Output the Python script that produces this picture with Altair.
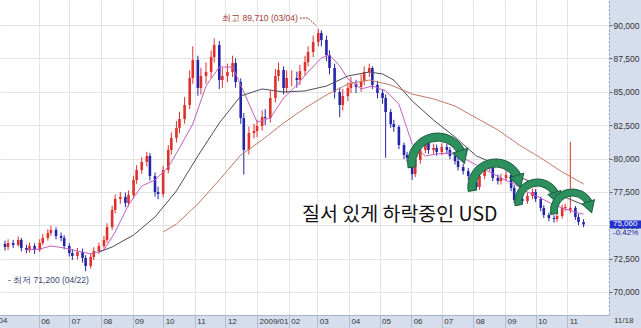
import altair as alt
import pandas as pd

# ---- candle data (every 3rd trading day) ----
closes = [73.37, 73.67, 73.52, 73.90, 73.30, 73.15, 73.45, 73.15, 73.67, 74.05,
          74.42, 74.65, 74.20, 74.05, 73.45, 72.92, 72.70, 73.00, 72.55, 71.95,
          72.62, 73.07, 73.45, 73.90, 74.87, 76.14, 76.97, 77.12, 76.67, 77.27,
          78.39, 79.14, 79.74, 80.19, 78.69, 77.49, 77.34, 79.14, 80.64, 81.54,
          82.29, 82.96, 84.01, 86.03, 87.38, 85.28, 86.18, 86.48, 87.60, 88.50,
          85.88, 86.18, 86.48, 87.15, 85.73, 83.03, 80.64, 81.91, 82.06, 82.44,
          83.11, 83.03, 84.53, 86.18, 86.63, 85.28, 86.03, 86.03, 85.88, 86.55,
          87.23, 87.98, 88.73, 89.40, 88.88, 87.75, 86.78, 84.98, 84.01, 84.68,
          85.28, 85.58, 85.36, 85.81, 86.48, 86.78, 85.51, 84.91, 84.53, 83.48,
          82.58, 82.36, 81.01, 80.26, 80.04, 78.84, 79.89, 80.64, 81.39, 80.64,
          80.79, 80.49, 80.86, 80.64, 80.19, 79.81, 79.36, 79.06, 78.69, 78.24,
          77.87, 78.69, 79.29, 79.51, 78.54, 78.32, 78.54, 78.76, 77.79, 76.89,
          76.97, 76.82, 77.19, 77.49, 76.97, 76.29, 75.77, 75.54, 75.47, 75.69,
          76.29, 76.37, 76.30, 75.62, 75.24, 75.06]
opens = [73.60, 73.37, 73.67, 73.52, 73.90, 73.30, 73.15, 73.45, 73.15, 73.67,
         74.05, 74.42, 74.65, 74.20, 74.05, 73.45, 72.92, 72.70, 73.00, 72.55,
         71.95, 72.62, 73.07, 73.45, 73.90, 74.87, 76.14, 76.97, 77.12, 76.67,
         77.27, 78.39, 79.14, 79.74, 80.19, 78.69, 77.49, 77.34, 79.14, 80.64,
         81.54, 82.29, 82.96, 84.01, 86.03, 87.38, 85.28, 86.18, 86.48, 87.60,
         88.50, 85.88, 86.18, 86.48, 87.15, 85.73, 83.03, 80.64, 81.91, 82.06,
         82.44, 83.11, 83.03, 84.53, 86.18, 86.63, 85.28, 86.03, 86.03, 85.88,
         86.55, 87.23, 87.98, 88.73, 89.40, 88.88, 87.75, 86.78, 84.98, 84.01,
         84.68, 85.28, 85.58, 85.36, 85.81, 86.48, 86.78, 85.51, 84.91, 84.53,
         83.48, 82.58, 82.36, 81.01, 80.26, 80.04, 78.84, 79.89, 80.64, 81.39,
         80.64, 80.79, 80.49, 80.86, 80.64, 80.19, 79.81, 79.36, 79.06, 78.69,
         78.24, 77.87, 78.69, 79.29, 79.51, 78.54, 78.32, 78.54, 78.76, 77.79,
         76.89, 76.97, 76.82, 77.19, 77.49, 76.97, 76.29, 75.77, 75.54, 75.47,
         75.69, 76.29, 76.12, 76.30, 75.62, 75.24]
highs = [73.85, 73.95, 73.90, 74.15, 74.05, 73.55, 73.70, 73.65, 73.95, 74.35,
         74.70, 74.95, 74.85, 74.45, 74.25, 73.65, 73.20, 73.30, 73.25, 72.75,
         72.90, 73.35, 73.70, 74.20, 75.15, 76.45, 77.30, 77.50, 77.45, 77.60,
         78.70, 79.50, 80.10, 80.50, 80.40, 78.95, 77.90, 79.45, 81.00, 81.95,
         82.80, 83.50, 84.60, 86.60, 88.40, 87.70, 86.80, 87.20, 88.10, 89.00,
         88.80, 86.80, 87.10, 87.70, 87.50, 86.00, 83.40, 82.40, 82.60, 82.90,
         83.60, 83.70, 85.10, 86.70, 87.20, 86.90, 86.60, 86.60, 86.50, 87.00,
         87.70, 88.40, 89.20, 89.71, 89.60, 89.20, 88.10, 87.10, 85.30, 85.20,
         85.70, 86.10, 85.90, 86.30, 86.90, 87.10, 86.90, 85.80, 85.20, 84.80,
         83.70, 82.90, 82.50, 81.20, 80.50, 80.20, 80.20, 80.95, 81.65, 81.60,
         81.10, 81.05, 81.15, 81.10, 80.85, 80.40, 80.05, 79.60, 79.30, 78.90,
         78.45, 78.95, 79.55, 79.85, 79.75, 78.80, 78.85, 79.10, 78.95, 78.00,
         77.25, 77.20, 77.45, 77.75, 77.70, 77.15, 76.50, 75.95, 75.75, 75.95,
         76.55, 76.60, 81.25, 76.45, 75.85, 75.45]
lows = [73.10, 73.15, 73.30, 73.40, 73.05, 72.90, 72.95, 72.85, 73.00, 73.50,
        73.85, 74.20, 73.95, 73.80, 73.20, 72.65, 72.40, 72.45, 72.20, 71.55,
        71.75, 72.40, 72.85, 73.25, 73.70, 74.65, 75.90, 76.60, 76.35, 76.40,
        77.00, 78.10, 78.85, 79.40, 78.35, 77.15, 76.95, 77.10, 78.90, 80.30,
        81.20, 81.90, 82.60, 83.70, 85.60, 84.70, 84.80, 85.60, 86.00, 87.20,
        85.20, 85.30, 85.70, 86.10, 85.30, 82.60, 78.80, 80.30, 81.50, 81.60,
        82.10, 82.50, 82.70, 84.20, 85.80, 84.80, 84.90, 85.40, 85.30, 85.50,
        86.20, 86.90, 87.60, 88.40, 88.40, 87.30, 86.30, 84.50, 83.10, 83.60,
        84.30, 84.90, 84.90, 85.00, 85.50, 86.10, 85.20, 84.50, 84.10, 80.05,
        82.30, 82.00, 80.70, 79.95, 79.70, 78.40, 78.60, 79.60, 80.40, 80.35,
        80.35, 80.20, 80.25, 80.35, 79.95, 79.55, 79.10, 78.80, 78.40, 77.95,
        77.60, 77.65, 78.45, 79.05, 78.30, 78.05, 78.05, 78.30, 77.55, 76.65,
        76.60, 76.55, 76.60, 76.95, 76.75, 76.05, 75.55, 75.30, 75.20, 75.25,
        75.50, 76.05, 75.90, 75.40, 75.00, 74.85]

# ---- moving-average lines, read at a subset of candle numbers ----
pink_at = [5, 8, 11, 14, 17, 20, 23, 26, 29, 32, 35, 38, 41, 44, 47, 50, 53, 56,
           59, 62, 65, 68, 71, 74, 76, 78, 80, 83, 86, 89, 92, 95, 98, 101, 104,
           107, 110, 113, 116, 119, 122, 125, 128, 131, 134, 135]
pink_vals = [73.15, 73.22, 73.45, 73.30, 73.07, 72.85, 73.15, 74.50, 76.52, 77.94,
             78.39, 79.36, 80.79, 82.58, 85.43, 86.85, 86.85, 84.98, 82.73, 83.03,
             84.53, 85.51, 86.48, 87.53, 87.75, 86.93, 85.96, 85.21, 85.43, 85.06,
             84.08, 81.09, 80.19, 80.34, 80.41, 80.04, 79.51, 78.99, 78.54, 78.09,
             77.49, 77.04, 76.52, 76.22, 75.92, 75.84]
gray_at = [22, 25, 30, 35, 40, 45, 50, 55, 60, 65, 70, 75, 80, 85, 88, 91, 95,
           100, 105, 110, 115, 120, 125, 130, 135]
gray_vals = [73.00, 73.37, 74.27, 75.62, 77.57, 80.19, 82.66, 84.68, 85.21, 84.98,
             85.06, 85.43, 86.18, 86.48, 86.33, 85.88, 84.31, 82.88, 81.61, 80.19,
             79.51, 78.62, 77.94, 77.19, 76.52]
brown_at = [37, 40, 45, 50, 55, 60, 65, 70, 75, 80, 85, 90, 95, 100, 105, 110,
            115, 120, 125, 130, 135]
brown_vals = [74.50, 75.09, 76.59, 78.39, 80.26, 81.39, 82.66, 83.78, 84.76, 85.58,
              85.88, 85.51, 84.83, 84.46, 83.93, 83.03, 82.14, 81.01, 80.04, 78.99,
              78.09]

# ---- axes ----
y_ticks = [70.0, 72.5, 75.0, 77.5, 80.0, 82.5, 85.0, 87.5, 90.0]
month_ticks = [(2008, 6), (2008, 7), (2008, 8), (2008, 9), (2008, 10), (2008, 11),
               (2008, 12), (2009, 1), (2009, 2), (2009, 3), (2009, 4), (2009, 5),
               (2009, 6), (2009, 7), (2009, 8), (2009, 9), (2009, 10), (2009, 11)]

# ---- annotations ----
arrow_dates = ["2009-06-27", "2009-08-23", "2009-10-03", "2009-11-06"]
arrow_values = [79.66, 77.87, 76.74, 76.07]
arrow_outer = [30, 28, 23, 22]
arrow_inner = [22, 20, 16, 15]
arrow_head = [240, 220, 180, 170]

headline = "질서 있게 하락중인 USD"
high_label = "최고 89,710 (03/04)"
low_label = "- 최저 71,200 (04/22)"
change_label = "-0.42%"

RED = "#e0302c"
BLUE = "#2424a8"
GRID = "#e3e3e3"
LABEL_FONT = "Liberation Sans Narrow, Liberation Sans, Arial"

dates = pd.bdate_range(start="2008-04-29", periods=len(closes), freq="3B").strftime("%Y-%m-%d").tolist()
candles = pd.DataFrame({"date": dates, "open": opens, "high": highs, "low": lows, "close": closes})

ma_rows = []
for name, idx, vals in [("pink", pink_at, pink_vals), ("gray", gray_at, gray_vals), ("brown", brown_at, brown_vals)]:
    for i, v in zip(idx, vals):
        ma_rows.append({"date": dates[i], "value": v, "series": name})
ma = pd.DataFrame(ma_rows)

X_SCALE = alt.Scale(type="utc", domain=[alt.DateTime(year=2008, month=4, date=29, utc=True),
                                        alt.DateTime(year=2009, month=12, date=7, utc=True)])
Y_SCALE = alt.Scale(domain=[68.277, 91.873], zero=False, nice=False)

X_AXIS = alt.Axis(
    values=[alt.DateTime(year=y, month=m, date=1, utc=True) for y, m in month_ticks],
    labelExpr="utcmonth(datum.value) == 0 ? utcFormat(datum.value, '%Y/%m') : utcFormat(datum.value, '%m')",
    grid=True, gridColor=GRID, gridWidth=1,
    tickSize=13, tickColor="#b2bdd4", tickWidth=1,
    labelPadding=-11, labelAlign="left", labelBaseline="top", labelOffset=2,
    labelFontSize=8, labelColor="#333333", labelFont=LABEL_FONT,
    labelOverlap=False, labelFlush=False, labelBound=False,
    domainColor="#a9b4cc", title=None,
)
Y_AXIS = alt.Axis(
    orient="right", values=y_ticks,
    labelExpr="replace(format(datum.value, '.3f'), '.', ',')",
    grid=True, gridColor=GRID, gridWidth=1,
    tickSize=3, tickColor="#666666", labelPadding=1,
    labelFontSize=8.5, labelColor="#333333", labelFont=LABEL_FONT,
    domainColor="#8a96b2", domainDash=[2, 2], title=None,
)


def X(field):
    return alt.X(f"{field}:T", scale=X_SCALE, axis=X_AXIS, title=None)


def Y(field):
    return alt.Y(f"{field}:Q", scale=Y_SCALE, axis=Y_AXIS, title=None)


up = alt.condition("datum.close >= datum.open", alt.value(RED), alt.value(BLUE))

wicks = alt.Chart(candles).mark_rule(strokeWidth=1).encode(
    x=X("date"), y=Y("low"), y2="high:Q", color=up)
bodies = alt.Chart(candles).mark_bar(size=2.6).encode(
    x=X("date"), y=Y("open"), y2="close:Q", color=up)

lines = alt.Chart(ma).mark_line(strokeWidth=1).encode(
    x=X("date"), y=Y("value"),
    color=alt.Color("series:N", legend=None,
                    scale=alt.Scale(domain=["pink", "gray", "brown"],
                                    range=["#c45ec4", "#4e4e5a", "#c27a66"])),
)

layers = [wicks, bodies, lines]

# green curved arrows
for d, v, ro, ri, hs in zip(arrow_dates, arrow_values, arrow_outer, arrow_inner, arrow_head):
    adf = pd.DataFrame({"date": [d], "value": [v]})
    rm = (ro + ri) / 2
    layers.append(alt.Chart(adf).mark_arc(
        radius=ro, radius2=ri, theta=4.55, theta2=7.41,
        fill="#2c8f5e", stroke="#1b5f3e", strokeWidth=1).encode(x=X("date"), y=Y("value")))
    layers.append(alt.Chart(adf).mark_point(
        shape="triangle-down", filled=True, size=hs, angle=342,
        xOffset=0.951 * rm, yOffset=-0.309 * rm + 2,
        fill="#2c8f5e", stroke="#1b5f3e", strokeWidth=1, opacity=1).encode(x=X("date"), y=Y("value")))

# headline text
layers.append(alt.Chart(pd.DataFrame({"date": ["2009-02-14"], "value": [75.77], "t": [headline]}))
              .mark_text(align="left", baseline="middle", fontSize=19.5, font="Noto Sans CJK KR", color="#111111")
              .encode(x=X("date"), y=Y("value"), text="t:N"))

# high / low annotations
layers.append(alt.Chart(pd.DataFrame({"date": ["2009-02-10"], "value": [90.52], "t": [high_label]}))
              .mark_text(align="right", baseline="middle", fontSize=8.5, font=LABEL_FONT, color="#a23c36")
              .encode(x=X("date"), y=Y("value"), text="t:N"))
layers.append(alt.Chart(pd.DataFrame({"date": ["2009-02-12", "2009-02-20", "2009-02-28"],
                                      "value": [90.52, 90.52, 89.95]}))
              .mark_line(strokeWidth=1, color="#a23c36", strokeDash=[2, 1])
              .encode(x=X("date"), y=Y("value")))
layers.append(alt.Chart(pd.DataFrame({"date": ["2008-05-02"], "value": [70.9], "t": [low_label]}))
              .mark_text(align="left", baseline="middle", fontSize=8.5, font=LABEL_FONT, color="#3c4470")
              .encode(x=X("date"), y=Y("value"), text="t:N"))

# clipped first month label and the last-date label
layers.append(alt.Chart(pd.DataFrame({"date": ["2008-04-01"], "t": ["2008/04"]}))
              .mark_text(align="left", baseline="top", dx=2, fontSize=8, font=LABEL_FONT, color="#333333")
              .encode(x=X("date"), y=alt.value(317), text="t:N"))
layers.append(alt.Chart(pd.DataFrame({"t": ["11/18"]}))
              .mark_text(align="left", baseline="top", fontSize=8, font=LABEL_FONT, color="#333333")
              .encode(x=alt.value(614), y=alt.value(317), text="t:N"))

# current price box
last = pd.DataFrame({"v": [closes[-1]], "c": [change_label]})
layers.append(alt.Chart(last).mark_rect(color="#2233cc", yOffset=-4, y2Offset=4)
              .encode(x=alt.value(610), x2=alt.value(641), y=Y("v"), y2="v:Q"))
layers.append(alt.Chart(last).mark_text(align="left", baseline="middle", fontSize=8, font=LABEL_FONT, color="#ffffff")
              .encode(x=alt.value(613), y=Y("v"), text=alt.Text("label:N"))
              .transform_calculate(label="replace(format(datum.v, '.3f'), '.', ',')"))
layers.append(alt.Chart(last).mark_text(align="left", baseline="middle", fontSize=8, font=LABEL_FONT, color="#1a1a99", dy=9)
              .encode(x=alt.value(613), y=Y("v"), text="c:N"))

chart = alt.layer(*layers).properties(
    width=609, height=315,
    autosize=alt.AutoSizeParams(type="none"),
    padding={"left": 0, "top": 0, "right": 32, "bottom": 13},
    background="#d6deee",
).configure_view(fill="white", stroke=None)

chart.save("out.html", embed_options={"renderer": "svg", "actions": False})
